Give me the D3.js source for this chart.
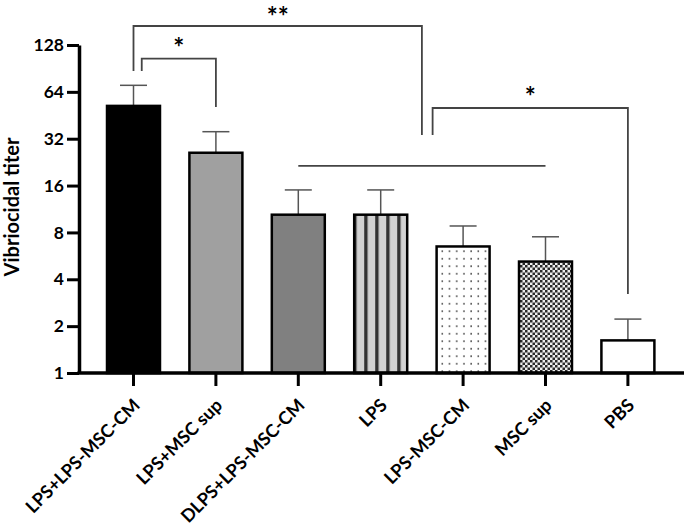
<!DOCTYPE html>
<html>
<head>
<meta charset="utf-8">
<script src="https://cdn.jsdelivr.net/npm/d3@7"></script>
<style>
  html, body { margin: 0; padding: 0; background: #fff; }
  svg { display: block; }
  text { font-family: Lato, "Open Sans", sans-serif; font-weight: 700; fill: #000; }
</style>
</head>
<body>
<svg id="chart" width="685" height="527"></svg>
<script>
// ---- data ----
const categories = ["LPS+LPS-MSC-CM", "LPS+MSC sup", "DLPS+LPS-MSC-CM", "LPS", "LPS-MSC-CM", "MSC sup", "PBS"];
const meanTiter  = [52, 26, 10.4, 10.4, 6.5, 5.2, 1.62];
const upperError = [70.5, 35.5, 15, 15, 8.8, 7.5, 2.22];
const yTickValues = [1, 2, 4, 8, 16, 32, 64, 128];
const yTickLabels = ["1", "2", "4", "8", "16", "32", "64", "128"];
const barFills = ["solid-black", "solid-gray", "solid-dark", "stripes", "dots", "checker", "white"];

// significance annotations
const sigFrom   = ["LPS+LPS-MSC-CM", "LPS+LPS-MSC-CM", "LPS", "DLPS+LPS-MSC-CM"];
const sigFromOff= [0, 0.1, 0.63, 0];
const sigTo     = ["LPS", "LPS+MSC sup", "PBS", "MSC sup"];
const sigToOff  = [0.5, 0, 0, 0];
const sigTop    = [169.5, 104.5, 50.4, 21.4];
const sigLeftEnd  = [87, 87, 33.8, 21.4];
const sigRightEnd = [33.8, 51.1, 3.22, 21.4];
const sigLabels = ["**", "*", "*", ""];

// ---- layout ----
const svg = d3.select("#chart");
const y = d3.scaleLog().base(2).domain([1, 128]).range([373, 45]);
const x = d3.scaleBand().domain(categories).range([92.3, 669.1]).paddingInner(0.357).paddingOuter(0.1785);
const cx = c => x(c) + x.bandwidth() / 2;
const step = x.step();

// ---- patterns ----
const defs = svg.append("defs");
const stripes = defs.append("pattern").attr("id", "stripes").attr("patternUnits", "userSpaceOnUse")
  .attr("width", 11).attr("height", 10).attr("x", x("LPS") + 10);
stripes.append("rect").attr("width", 11).attr("height", 10).attr("fill", "#d2d2d2");
stripes.append("rect").attr("x", 0).attr("width", 3.4).attr("height", 10).attr("fill", "#333");

const dots = defs.append("pattern").attr("id", "dots").attr("patternUnits", "userSpaceOnUse")
  .attr("width", 7.2).attr("height", 7.5).attr("x", x("LPS-MSC-CM") + 2);
dots.append("rect").attr("width", 7.2).attr("height", 7.5).attr("fill", "#fff");
dots.append("rect").attr("x", 3).attr("y", 3).attr("width", 1.5).attr("height", 1.5).attr("fill", "#333");

const checker = defs.append("pattern").attr("id", "checker").attr("patternUnits", "userSpaceOnUse")
  .attr("width", 5).attr("height", 5);
checker.append("rect").attr("width", 5).attr("height", 5).attr("fill", "#eee");
checker.append("rect").attr("width", 2.5).attr("height", 2.5).attr("fill", "#2a2a2a");
checker.append("rect").attr("x", 2.5).attr("y", 2.5).attr("width", 2.5).attr("height", 2.5).attr("fill", "#2a2a2a");

const fillFor = {
  "solid-black": "#000", "solid-gray": "#a0a0a0", "solid-dark": "#808080",
  "stripes": "url(#stripes)", "dots": "url(#dots)", "checker": "url(#checker)", "white": "#fff"
};

const rows = categories.map((c, i) => ({ c, m: meanTiter[i], e: upperError[i], f: barFills[i] }));

// ---- error bars ----
const eb = svg.append("g").attr("stroke", "#555").attr("stroke-width", 1.5);
eb.selectAll("line.v").data(rows).join("line").attr("class", "v")
  .attr("x1", d => cx(d.c)).attr("x2", d => cx(d.c))
  .attr("y1", d => y(d.m)).attr("y2", d => y(d.e));
eb.selectAll("line.h").data(rows).join("line").attr("class", "h")
  .attr("x1", d => cx(d.c) - 13.5).attr("x2", d => cx(d.c) + 13.5)
  .attr("y1", d => y(d.e)).attr("y2", d => y(d.e));

// ---- bars ----
svg.append("g").selectAll("rect").data(rows).join("rect")
  .attr("x", d => x(d.c)).attr("width", x.bandwidth())
  .attr("y", d => y(d.m)).attr("height", d => y(1) - y(d.m))
  .attr("fill", d => fillFor[d.f]).attr("stroke", "#000").attr("stroke-width", 2.5);

// ---- significance brackets ----
const starSize = 26;
const sg = svg.append("g");
sigFrom.forEach((f, i) => {
  const x1 = cx(f) + sigFromOff[i] * step;
  const x2 = cx(sigTo[i]) + sigToOff[i] * step;
  const yt = y(sigTop[i]);
  sg.append("path")
    .attr("d", `M${x1},${y(sigLeftEnd[i])}V${yt}H${x2}V${y(sigRightEnd[i])}`)
    .attr("fill", "none").attr("stroke", "#444").attr("stroke-width", 1.8);
  if (sigLabels[i]) {
    sg.append("text").attr("x", (x1 + x2) / 2).attr("y", Math.max(yt - 2, starSize))
      .attr("text-anchor", "middle").attr("font-size", starSize).text(sigLabels[i]);
  }
});

// ---- axes ----
const yAxis = svg.append("g").attr("transform", "translate(79,0)")
  .call(d3.axisLeft(y).tickValues(yTickValues).tickFormat((d, i) => yTickLabels[i]).tickSize(12).tickSizeOuter(0).tickPadding(3));
yAxis.select(".domain").attr("stroke-width", 3.5);
yAxis.selectAll(".tick line").attr("stroke-width", 3);
yAxis.selectAll("text").attr("font-size", 17.5).attr("font-family", "Lato").attr("font-weight", 700);

const xAxis = svg.append("g").attr("transform", "translate(0,373)")
  .call(d3.axisBottom(x).tickSize(13).tickSizeOuter(0));
xAxis.select(".domain").remove();
xAxis.append("line").attr("x1", 77.5).attr("x2", 684).attr("stroke", "#000").attr("stroke-width", 3.5);
xAxis.selectAll(".tick line").attr("stroke-width", 3);
xAxis.selectAll(".tick text")
  .attr("x", 0).attr("y", 0).attr("dy", "0.35em")
  .attr("transform", "translate(3,29) rotate(-45)")
  .attr("text-anchor", "end").attr("font-size", 18).attr("font-family", "Lato").attr("font-weight", 700);

// ---- y label ----
svg.append("text").attr("transform", "translate(11,207) rotate(-90)")
  .attr("text-anchor", "middle").attr("dominant-baseline", "central")
  .attr("font-size", 20).text("Vibriocidal titer");
</script>
</body>
</html>
